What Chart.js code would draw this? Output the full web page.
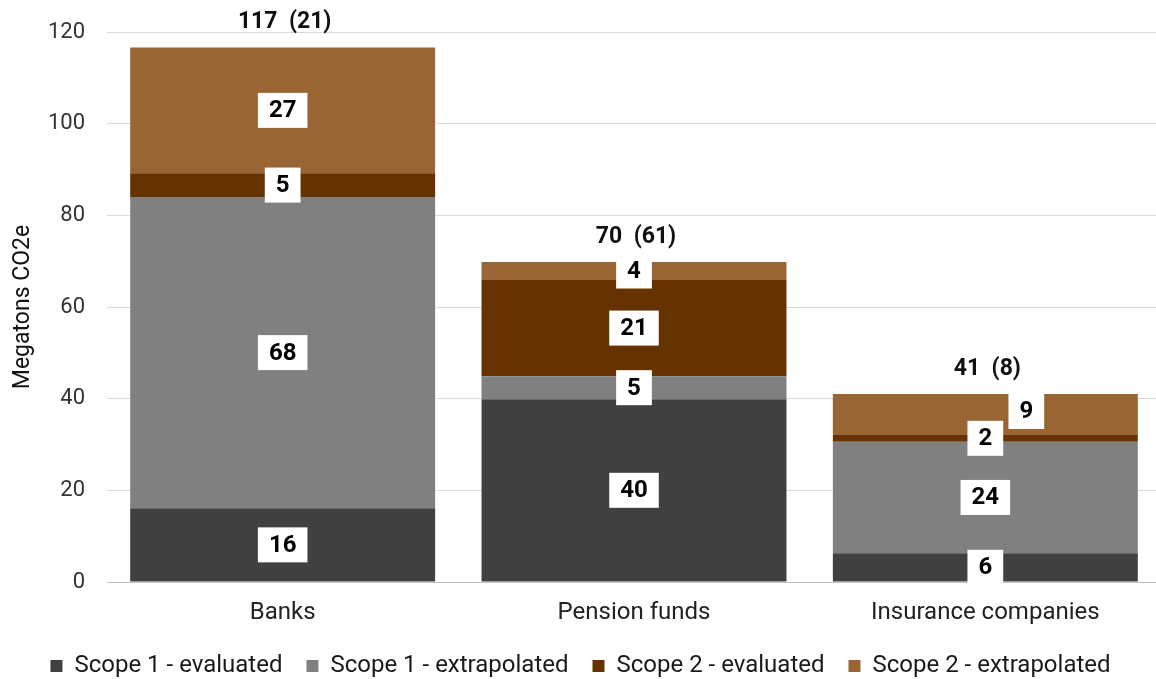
<!DOCTYPE html>
<html>
<head>
<meta charset="utf-8">
<script src="https://cdn.jsdelivr.net/npm/chart.js@4"></script>
<style>
  html, body { margin: 0; padding: 0; background: #fff; overflow: hidden; }
  #wrap { width: 1161px; height: 679px; }
</style>
</head>
<body>
<div id="wrap"><canvas id="emissionsChart"></canvas></div>
<script>
const categories = ['Banks', 'Pension funds', 'Insurance companies'];
const scope1Evaluated = [16.1, 39.9, 6.3];
const scope1Extrapolated = [67.9, 5.0, 24.3];
const scope2Evaluated = [5.2, 21.0, 1.5];
const scope2Extrapolated = [27.4, 3.9, 8.9];
const institutionCounts = [21, 61, 8];
const yTicks = [0, 20, 40, 60, 80, 100, 120];

Chart.defaults.font.family = 'Roboto, "Liberation Sans", sans-serif';
Chart.defaults.color = '#333333';

// white boxes with the rounded value in each segment, plus total and count above each bar
const segmentLabels = {
  id: 'segmentLabels',
  afterDatasetsDraw(chart) {
    const ctx = chart.ctx;
    ctx.save();
    ctx.textAlign = 'center';
    ctx.textBaseline = 'middle';
    ctx.font = 'bold 24px Roboto, sans-serif';
    chart.data.datasets.forEach((ds, di) => {
      const meta = chart.getDatasetMeta(di);
      meta.data.forEach((bar, i) => {
        const text = String(Math.round(ds.data[i]));
        let x = bar.x;
        let y = (bar.y + bar.base) / 2;
        // the thin top segment of insurers is pushed aside so it does not cover the "2"
        if (di === 3 && i === 2) { x += 41; y -= 3; }
        const w = ctx.measureText(text).width + 22;
        const h = 35;
        ctx.fillStyle = '#ffffff';
        ctx.fillRect(x - w / 2, y - h / 2, w, h);
        ctx.fillStyle = '#000000';
        ctx.fillText(text, x, y + 1);
      });
    });

    ctx.font = 'bold 23px Roboto, sans-serif';
    ctx.fillStyle = '#111111';
    const topMeta = chart.getDatasetMeta(3);
    categories.forEach((c, i) => {
      const total = scope1Evaluated[i] + scope1Extrapolated[i] + scope2Evaluated[i] + scope2Extrapolated[i];
      const bar = topMeta.data[i];
      ctx.fillText(Math.round(total) + '  (' + institutionCounts[i] + ')', bar.x + 2, bar.y - 25);
    });
    ctx.restore();
  }
};

new Chart(document.getElementById('emissionsChart'), {
  type: 'bar',
  data: {
    labels: categories,
    datasets: [
      { label: 'Scope 1 - evaluated', data: scope1Evaluated, backgroundColor: '#404040' },
      { label: 'Scope 1 - extrapolated', data: scope1Extrapolated, backgroundColor: '#808080' },
      { label: 'Scope 2 - evaluated', data: scope2Evaluated, backgroundColor: '#663300' },
      { label: 'Scope 2 - extrapolated', data: scope2Extrapolated, backgroundColor: '#996633' }
    ]
  },
  options: {
    responsive: true,
    maintainAspectRatio: false,
    animation: false,
    layout: { padding: { top: 32, right: 0, left: 0, bottom: -9 } },
    datasets: { bar: { barPercentage: 0.868, categoryPercentage: 1 } },
    scales: {
      x: {
        stacked: true,
        afterFit: axis => { axis.height = 48; },
        grid: { display: false, drawTicks: false },
        border: { color: '#bfbfbf' },
        ticks: { font: { size: 24 }, padding: 17, color: '#222222' }
      },
      y: {
        stacked: true,
        min: 0,
        max: 120,
        afterBuildTicks: axis => { axis.ticks = yTicks.map(v => ({ value: v })); },
        afterFit: axis => { axis.width = 107; axis.paddingTop = 0; },
        grid: { color: '#d9d9d9', drawTicks: false },
        border: { display: false },
        ticks: { font: { size: 22 }, padding: 22 },
        title: { display: true, text: 'Megatons CO2e', font: { size: 23 }, padding: { top: 9, bottom: 0 }, color: '#111111' }
      }
    },
    plugins: {
      legend: {
        position: 'bottom',
        labels: { boxWidth: 12, boxHeight: 12, padding: 24, font: { size: 24 }, color: '#1a1a1a' }
      },
      tooltip: { enabled: false }
    }
  },
  plugins: [segmentLabels]
});
</script>
</body>
</html>
